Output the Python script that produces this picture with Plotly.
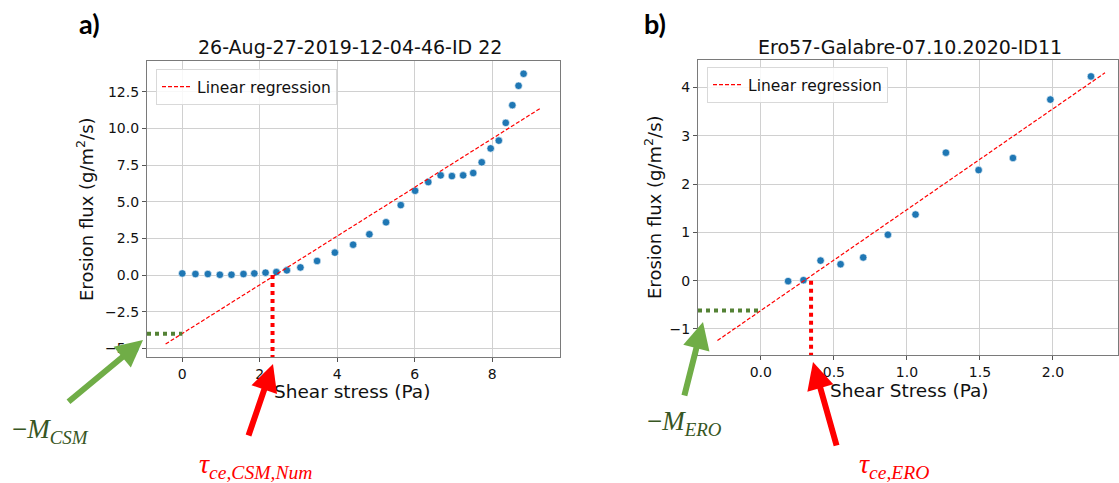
import plotly.graph_objects as go

W, H = 1119, 483

# ---------------- data: panel a ----------------
shear_a = [0.00, 0.34, 0.66, 0.97, 1.27, 1.58, 1.86, 2.15, 2.43, 2.70, 3.05, 3.48, 3.94,
           4.41, 4.83, 5.26, 5.64, 6.01, 6.35, 6.67, 6.96, 7.25, 7.51, 7.73, 7.96, 8.17,
           8.35, 8.52, 8.68, 8.81]
flux_a = [0.11, 0.07, 0.07, 0.02, 0.02, 0.07, 0.11, 0.16, 0.20, 0.32, 0.52, 0.96, 1.53,
          2.07, 2.78, 3.60, 4.77, 5.75, 6.34, 6.80, 6.75, 6.80, 6.96, 7.69, 8.64, 9.17,
          10.38, 11.59, 12.91, 13.73]
fit_a_x = [-0.43, 9.23]
slope_a, intercept_a = 1.662, -3.99
tau_a, m_a = 2.33, -4.0

# ---------------- data: panel b ----------------
shear_b = [0.187, 0.292, 0.409, 0.546, 0.701, 0.870, 1.059, 1.267, 1.491, 1.726, 1.982, 2.260]
flux_b = [-0.01, 0.01, 0.415, 0.34, 0.48, 0.95, 1.37, 2.65, 2.29, 2.54, 3.75, 4.23]
fit_b_x = [-0.297, 2.356]
slope_b, intercept_b = 2.09, -0.62
tau_b, m_b = 0.344, -0.62

titles = ["26-Aug-27-2019-12-04-46-ID 22", "Ero57-Galabre-07.10.2020-ID11"]
xt_a = [0, 2, 4, 6, 8]
yt_a = [-5, -2.5, 0, 2.5, 5, 7.5, 10, 12.5]
yt_a_lbl = ["−5.0", "−2.5", "0.0", "2.5", "5.0", "7.5", "10.0", "12.5"]
xt_b = [0, 0.5, 1.0, 1.5, 2.0]
xt_b_lbl = ["0.0", "0.5", "1.0", "1.5", "2.0"]
yt_b = [-1, 0, 1, 2, 3, 4]
yt_b_lbl = ["−1", "0", "1", "2", "3", "4"]

xr_a, yr_a = [-0.91, 9.75], [-5.59, 14.6]
xr_b, yr_b = [-0.43, 2.445], [-1.54, 4.57]

BLUE = "#1f77b4"
TXT = "#111111"
TICKFONT = dict(family="DejaVu Sans", size=14, color=TXT)


def px(x):
    return x / W


def py(y):
    return 1 - y / H


fig = go.Figure()

# panel a traces
fig.add_trace(go.Scatter(x=shear_a, y=flux_a, mode="markers", showlegend=False,
                         marker=dict(color=BLUE, size=7.5, line=dict(color="white", width=0.6)),
                         xaxis="x", yaxis="y"))
fig.add_trace(go.Scatter(x=fit_a_x, y=[slope_a * v + intercept_a for v in fit_a_x], mode="lines",
                         name="Linear regression", legend="legend",
                         line=dict(color="red", width=1.2, dash="4px,2px"),
                         xaxis="x", yaxis="y"))
fig.add_trace(go.Scatter(x=[tau_a, tau_a], y=[0, yr_a[0] - 0.15], mode="lines", showlegend=False,
                         line=dict(color="red", width=4, dash="dot"), cliponaxis=False,
                         xaxis="x", yaxis="y"))
fig.add_trace(go.Scatter(x=[xr_a[0], 0], y=[m_a, m_a], mode="lines", showlegend=False,
                         line=dict(color="#548235", width=4, dash="dot"), cliponaxis=False,
                         xaxis="x", yaxis="y"))

# panel b traces
fig.add_trace(go.Scatter(x=shear_b, y=flux_b, mode="markers", showlegend=False,
                         marker=dict(color=BLUE, size=7.5, line=dict(color="white", width=0.6)),
                         xaxis="x2", yaxis="y2"))
fig.add_trace(go.Scatter(x=fit_b_x, y=[slope_b * v + intercept_b for v in fit_b_x], mode="lines",
                         name="Linear regression", legend="legend2",
                         line=dict(color="red", width=1.2, dash="4px,2px"),
                         xaxis="x2", yaxis="y2"))
fig.add_trace(go.Scatter(x=[tau_b, tau_b], y=[0, yr_b[0] - 0.05], mode="lines", showlegend=False,
                         line=dict(color="red", width=4, dash="dot"), cliponaxis=False,
                         xaxis="x2", yaxis="y2"))
fig.add_trace(go.Scatter(x=[xr_b[0], 0], y=[m_b, m_b], mode="lines", showlegend=False,
                         line=dict(color="#548235", width=4, dash="dot"), cliponaxis=False,
                         xaxis="x2", yaxis="y2"))

axis_common = dict(showline=True, mirror=True, linecolor="#7a7a7a", linewidth=1.3,
                   showgrid=True, gridcolor="#d0d0d0", gridwidth=1, zeroline=False,
                   ticks="outside", ticklen=4, tickcolor="#555555", tickfont=TICKFONT)

legend_common = dict(xanchor="left", yanchor="top",
                     bgcolor="rgba(255,255,255,0.85)", bordercolor="#d9d9d9", borderwidth=1,
                     font=dict(family="DejaVu Sans", size=15.5, color=TXT),
                     itemwidth=30, tracegroupgap=0)

fig.update_layout(
    width=W, height=H, margin=dict(l=0, r=0, t=0, b=0),
    paper_bgcolor="white", plot_bgcolor="white",
    xaxis=dict(domain=[px(147), px(560)], range=xr_a, anchor="y",
               tickvals=xt_a, ticktext=[str(v) for v in xt_a], **axis_common),
    yaxis=dict(domain=[py(357), py(61)], range=yr_a, anchor="x",
               tickvals=yt_a, ticktext=yt_a_lbl, **axis_common),
    xaxis2=dict(domain=[px(698), px(1118)], range=xr_b, anchor="y2",
                tickvals=xt_b, ticktext=xt_b_lbl, **axis_common),
    yaxis2=dict(domain=[py(355), py(60)], range=yr_b, anchor="x2",
                tickvals=yt_b, ticktext=yt_b_lbl, **axis_common),
    legend=dict(x=px(156), y=py(69), **legend_common),
    legend2=dict(x=px(707), y=py(67), **legend_common),
)

ann = []
# panel letters
ann.append(dict(x=px(89), y=py(24), text="<b>a)</b>", font=dict(family="Lato", size=27, color="black")))
ann.append(dict(x=px(655), y=py(23), text="<b>b)</b>", font=dict(family="Lato", size=27, color="black")))
# titles
ann.append(dict(x=px(350), y=py(47), text=titles[0], font=dict(family="DejaVu Sans", size=19, color=TXT)))
ann.append(dict(x=px(910), y=py(47), text=titles[1], font=dict(family="DejaVu Sans", size=19, color=TXT)))
# axis titles
ann.append(dict(x=px(352), y=py(391), text="Shear stress (Pa)", font=dict(family="DejaVu Sans", size=18.5, color=TXT)))
ann.append(dict(x=px(909), y=py(390), text="Shear Stress (Pa)", font=dict(family="DejaVu Sans", size=18.5, color=TXT)))
ann.append(dict(x=px(85), y=py(209), text="Erosion flux (g/m<sup>2</sup>/s)", textangle=-90,
                font=dict(family="DejaVu Sans", size=18, color=TXT)))
ann.append(dict(x=px(653), y=py(207), text="Erosion flux (g/m<sup>2</sup>/s)", textangle=-90,
                font=dict(family="DejaVu Sans", size=18, color=TXT)))
# symbol labels
ann.append(dict(x=px(50), y=py(431), text="−<i>M</i><sub><i>CSM</i></sub>",
                font=dict(family="Liberation Serif", size=27, color="#375623")))
ann.append(dict(x=px(255), y=py(465), text="<i>τ</i><sub><i>ce,CSM,Num</i></sub>",
                font=dict(family="Liberation Serif", size=28, color="red")))
ann.append(dict(x=px(684), y=py(423), text="−<i>M</i><sub><i>ERO</i></sub>",
                font=dict(family="Liberation Serif", size=27, color="#375623")))
ann.append(dict(x=px(894), y=py(465), text="<i>τ</i><sub><i>ce,ERO</i></sub>",
                font=dict(family="Liberation Serif", size=28, color="red")))
for a in ann:
    a.update(xref="paper", yref="paper", showarrow=False, xanchor="center", yanchor="middle")

# arrows (tip, tail) in pixels
arrows = [((143, 340), (67, 403), "#70ad47"),
          ((273, 364), (248, 437), "red"),
          ((703, 322), (684, 397), "#70ad47"),
          ((813, 362), (837, 447), "red")]
for (tx, ty), (sx, sy), col in arrows:
    ann.append(dict(xref="paper", yref="paper", x=px(tx), y=py(ty), ax=sx - tx, ay=sy - ty,
                    axref="pixel", ayref="pixel", text="", showarrow=True,
                    arrowhead=2, arrowsize=0.9, arrowwidth=6, arrowcolor=col, standoff=0))

fig.update_layout(annotations=ann)
fig.write_html("out.html", config={"displayModeBar": False},
               post_script="document.body.style.margin='0px';")
